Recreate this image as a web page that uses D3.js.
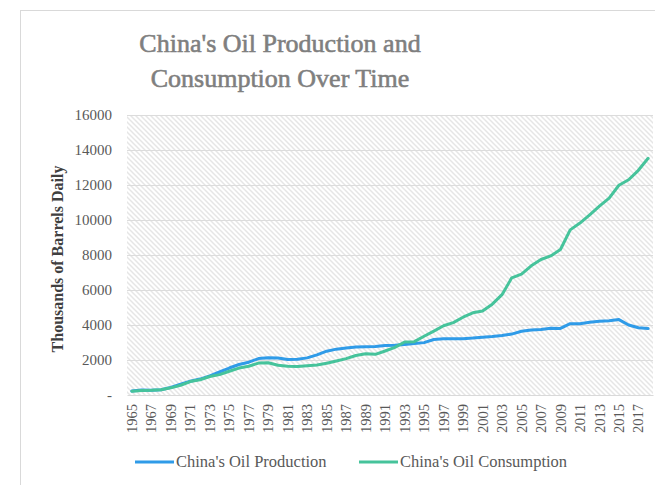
<!DOCTYPE html>
<html>
<head>
<meta charset="utf-8">
<script src="https://cdn.jsdelivr.net/npm/d3@7"></script>
<style>
  body { margin: 0; background: #fff; }
  text { font-family: 'Liberation Serif', 'DejaVu Serif', serif; }
</style>
</head>
<body>
<div id="chart"></div>
<script>
const years = d3.range(1965, 2019);

// Thousands of barrels daily.
const production = [
  227, 292, 278, 302, 437, 616, 785, 911, 1090, 1315,
  1542, 1741, 1874, 2082, 2122, 2119, 2030, 2045, 2121, 2296,
  2505, 2620, 2690, 2737, 2757, 2774, 2835, 2845, 2890, 2939,
  2993, 3170, 3211, 3212, 3213, 3252, 3306, 3346, 3401, 3481,
  3642, 3711, 3742, 3814, 3805, 4077, 4074, 4155, 4216, 4246,
  4309, 3999, 3846, 3798
];

const consumption = [
  216, 262, 273, 297, 409, 556, 767, 870, 1055, 1163,
  1357, 1539, 1645, 1822, 1840, 1703, 1648, 1626, 1667, 1719,
  1814, 1940, 2077, 2257, 2353, 2323, 2515, 2723, 3030, 3047,
  3356, 3650, 3958, 4139, 4446, 4695, 4795, 5191, 5734, 6695,
  6909, 7383, 7742, 7947, 8315, 9435, 9823, 10296, 10794, 11255,
  11986, 12302, 12840, 13525
];

const yTicks = [0, 2000, 4000, 6000, 8000, 10000, 12000, 14000, 16000];
const seriesNames = ["China's Oil Production", "China's Oil Consumption"];
const seriesColors = ['#2f9be8', '#46c39b'];

const width = 655;
const height = 485;
const plotLeft = 127;
const plotRight = 653;
const plotTop = 115;
const plotBottom = 395;

let svg = d3.select('#chart')
  .append('svg')
  .attr('width', width)
  .attr('height', height);

// Hatch fill for the plot area.
let defs = svg.append('defs');
defs.append('pattern')
    .attr('id', 'hatch')
    .attr('patternUnits', 'userSpaceOnUse')
    .attr('width', 5)
    .attr('height', 5)
  .append('path')
    .attr('d', 'M-1,-1 L6,6 M-1,4 L1,6 M4,-1 L6,1')
    .attr('stroke', '#e6e6e6')
    .attr('stroke-width', 1.5);

// Chart border (runs past the window on the right and bottom).
svg.append('rect')
  .attr('x', 20.5)
  .attr('y', 10.5)
  .attr('width', 700)
  .attr('height', 500)
  .attr('fill', 'none')
  .attr('stroke', '#d9d9d9');

let x = d3.scaleBand().domain(years).range([plotLeft, plotRight]);
let y = d3.scaleLinear().domain([0, 16000]).range([plotBottom, plotTop]);

svg.append('rect')
  .attr('x', plotLeft)
  .attr('y', plotTop)
  .attr('width', plotRight - plotLeft)
  .attr('height', plotBottom - plotTop)
  .attr('fill', 'url(#hatch)');

// Horizontal gridlines.
svg.append('g')
  .selectAll('line')
  .data(yTicks.filter(t => t > 0))
  .enter()
  .append('line')
    .attr('x1', plotLeft)
    .attr('x2', plotRight)
    .attr('y1', d => Math.round(y(d)) + 0.5)
    .attr('y2', d => Math.round(y(d)) + 0.5)
    .attr('stroke', '#dcdcdc');

let yAxis = d3.axisLeft(y)
  .tickValues(yTicks)
  .tickSize(0)
  .tickPadding(15)
  .tickFormat(t => t === 0 ? '-' : t);

svg.append('g')
  .attr('transform', `translate(${plotLeft},0)`)
  .call(yAxis)
  .call(g => g.select('.domain').remove())
  .selectAll('text')
    .attr('fill', '#595959')
    .style('font-size', '15px');

let xAxis = d3.axisBottom(x)
  .tickValues(years.filter(d => (d - 1965) % 2 === 0))
  .tickSize(0);

let xg = svg.append('g')
  .attr('transform', `translate(0,${plotBottom})`)
  .call(xAxis);

xg.select('.domain').attr('stroke', '#d9d9d9');
xg.selectAll('text')
  .attr('fill', '#595959')
  .style('font-size', '14.5px')
  .attr('transform', 'rotate(-90)')
  .attr('text-anchor', 'end')
  .attr('x', -9)
  .attr('y', 0)
  .attr('dy', '0.35em');

// Lines.
let line = d3.line()
  .x((d, i) => x(years[i]) + x.bandwidth() / 2)
  .y(d => y(d));

[production, consumption].forEach((values, i) => {
  svg.append('path')
    .datum(values)
    .attr('d', line)
    .attr('fill', 'none')
    .attr('stroke', seriesColors[i])
    .attr('stroke-width', 3)
    .attr('stroke-linejoin', 'round')
    .attr('stroke-linecap', 'round');
});

// Title.
svg.append('g')
  .selectAll('text')
  .data(["China's Oil Production and", 'Consumption Over Time'])
  .enter()
  .append('text')
    .attr('x', 280)
    .attr('y', (d, i) => 52 + i * 35)
    .attr('text-anchor', 'middle')
    .attr('fill', '#7f7f7f')
    .attr('stroke', '#7f7f7f')
    .attr('stroke-width', 0.6)
    .style('font-size', '26px')
    .text(d => d);

// Y axis title.
svg.append('text')
  .attr('transform', 'translate(63,259) rotate(-90)')
  .attr('text-anchor', 'middle')
  .attr('fill', '#404040')
  .style('font-size', '16px')
  .style('font-weight', 'bold')
  .text('Thousands of Barrels Daily');

// Legend.
let legendX = [135, 359];
let legend = svg.append('g')
  .selectAll('g')
  .data(seriesNames)
  .enter()
  .append('g')
    .attr('transform', (d, i) => `translate(${legendX[i]},462)`);

legend.append('line')
  .attr('x1', 0)
  .attr('x2', 39)
  .attr('stroke', (d, i) => seriesColors[i])
  .attr('stroke-width', 3);

legend.append('text')
  .attr('x', 41)
  .attr('dy', '0.33em')
  .attr('fill', '#595959')
  .style('font-size', '16.5px')
  .text(d => d);
</script>
</body>
</html>
